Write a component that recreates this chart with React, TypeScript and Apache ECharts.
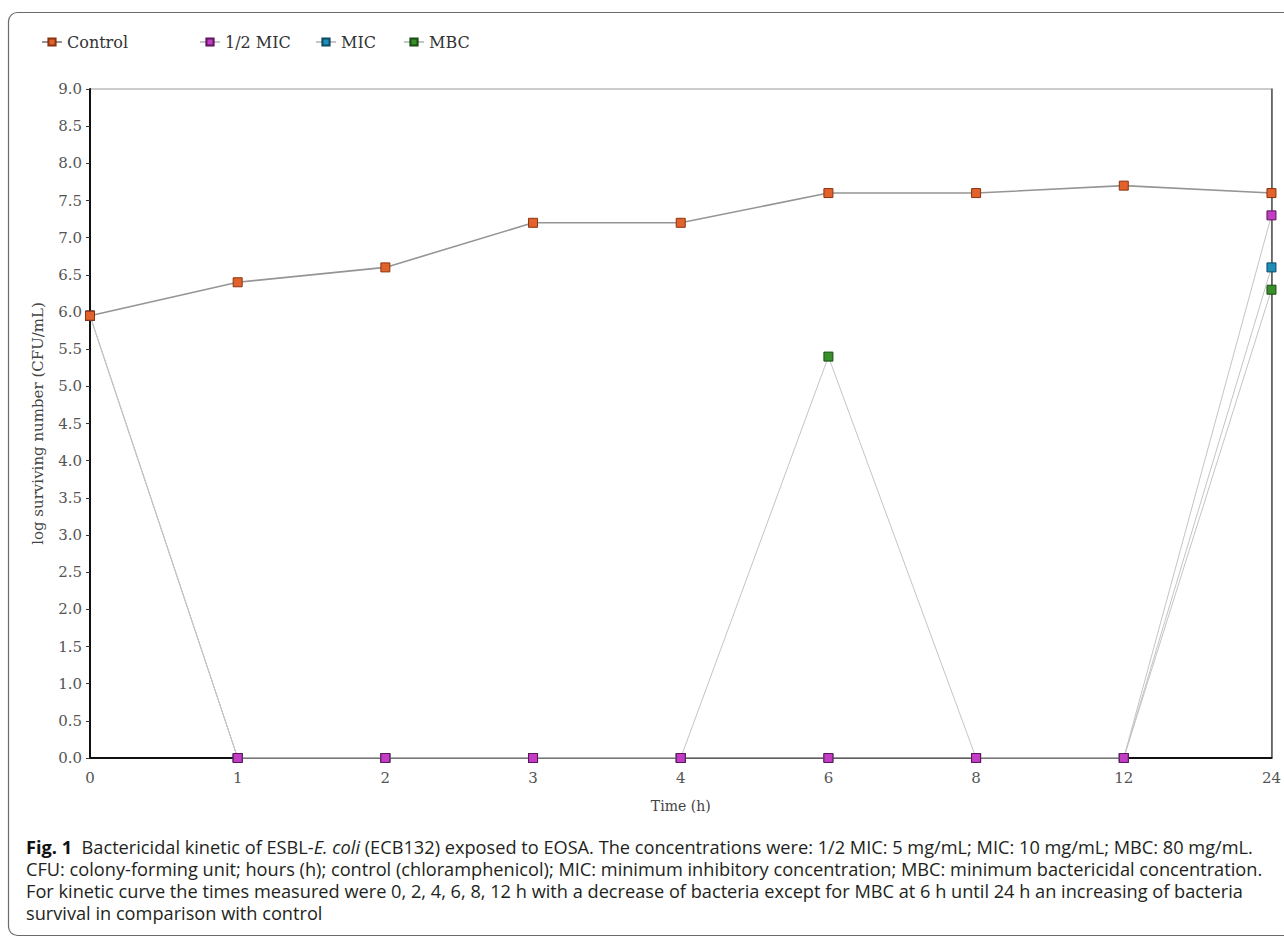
import React, { useEffect, useRef } from "react";
import * as echarts from "echarts";

const categories = ["0", "1", "2", "3", "4", "6", "8", "12", "24"];
const seriesNames = ["Control", "1/2 MIC", "MIC", "MBC"];
const control = [5.95, 6.4, 6.6, 7.2, 7.2, 7.6, 7.6, 7.7, 7.6];
const halfMic = [5.95, 0, 0, 0, 0, 0, 0, 0, 7.3];
const mic = [5.95, 0, 0, 0, 0, 0, 0, 0, 6.6];
const mbc = [5.95, 0, 0, 0, 0, 5.4, 0, 0, 6.3];

const yAxisTitle = "log surviving number (CFU/mL)";
const xAxisTitle = "Time (h)";

const captionLine1Rich =
  "{b|Fig. 1}  Bactericidal kinetic of ESBL-{i|E. coli} (ECB132) exposed to EOSA. The concentrations were: 1/2 MIC: 5 mg/mL; MIC: 10 mg/mL; MBC: 80 mg/mL.";
const captionLine2 =
  "CFU: colony-forming unit; hours (h); control (chloramphenicol); MIC: minimum inhibitory concentration; MBC: minimum bactericidal concentration.";
const captionLine3 =
  "For kinetic curve the times measured were 0, 2, 4, 6, 8, 12 h with a decrease of bacteria except for MBC at 6 h until 24 h an increasing of bacteria";
const captionLine4 = "survival in comparison with control";

const SERIF = '"DejaVu Serif", "Liberation Serif", serif';
const SANS = '"Open Sans", "Noto Sans", sans-serif';

const legendLefts = [36, 194, 310, 398];
const CAP_SIZE = 18.2;

export default function App() {
  const ref = useRef<HTMLDivElement>(null);

  useEffect(() => {
    if (!ref.current) return;
    const chart = echarts.init(ref.current, null, { renderer: "svg" });

    const mk = (
      name: string,
      data: number[],
      color: string,
      border: string,
      lineColor: string,
      lineWidth: number,
      z: number
    ) => ({
      name,
      type: "line",
      data,
      z,
      symbol: "rect",
      symbolSize: 9,
      showSymbol: true,
      lineStyle: { color: lineColor, width: lineWidth },
      itemStyle: { color, borderColor: border, borderWidth: 1 },
      emphasis: { disabled: true },
    });

    const capStyle = (text: string) => ({
      text,
      fontFamily: SANS,
      fontSize: CAP_SIZE,
      lineHeight: CAP_SIZE,
      fill: "#231f20",
      verticalAlign: "middle",
    });

    chart.setOption({
      animation: false,
      backgroundColor: "#ffffff",
      legend: seriesNames.map((n, i) => ({
        left: legendLefts[i],
        top: 29,
        itemWidth: 20,
        itemHeight: 9,
        textStyle: { fontFamily: SERIF, fontSize: 16, color: "#333" },
        data: [n],
      })),
      grid: {
        left: 90,
        right: 11,
        top: 89,
        bottom: 180,
        show: true,
        borderColor: "#999",
        borderWidth: 1,
      },
      xAxis: {
        type: "category",
        data: categories,
        boundaryGap: false,
        name: xAxisTitle,
        nameLocation: "middle",
        nameGap: 41,
        nameTextStyle: { fontFamily: SERIF, fontSize: 14, color: "#444" },
        axisLine: { lineStyle: { color: "#111", width: 2 } },
        axisTick: { show: false },
        axisLabel: { fontFamily: SERIF, fontSize: 15, color: "#555", margin: 12 },
        splitLine: { show: false },
      },
      yAxis: [
        {
          type: "value",
          min: 0,
          max: 9,
          interval: 0.5,
          name: yAxisTitle,
          nameLocation: "middle",
          nameGap: 45,
          nameTextStyle: { fontFamily: SERIF, fontSize: 15, color: "#444" },
          axisLine: { show: true, lineStyle: { color: "#111", width: 2 } },
          axisTick: { show: true, length: 4, lineStyle: { color: "#333" } },
          axisLabel: {
            fontFamily: SERIF,
            fontSize: 15,
            color: "#555",
            margin: 8,
            formatter: (v: number) => v.toFixed(1),
          },
          splitLine: { show: false },
        },
        {
          type: "value",
          min: 0,
          max: 9,
          interval: 0.5,
          position: "right",
          axisLine: { show: true, lineStyle: { color: "#555", width: 1.5 } },
          axisTick: { show: false },
          axisLabel: { show: false },
          splitLine: { show: false },
        },
      ],
      series: [
        mk("Control", control, "#e2622b", "#8a3310", "#959595", 1.6, 5),
        mk("1/2 MIC", halfMic, "#c23cc4", "#5e145e", "#c4c4c4", 1, 4),
        mk("MIC", mic, "#1f8fb8", "#0d4a63", "#c4c4c4", 1, 3),
        mk("MBC", mbc, "#3a8f2a", "#174d10", "#c4c4c4", 1, 2),
      ],
      graphic: [
        {
          type: "rect",
          shape: { x: 8.5, y: 12.5, width: 1290, height: 923, r: 9 },
          style: { fill: "none", stroke: "#6b6b6b", lineWidth: 1.2 },
          silent: true,
          z: -1,
        },
        {
          type: "text",
          x: 26,
          y: 847,
          style: {
            ...capStyle(captionLine1Rich),
            rich: {
              b: { fontFamily: SANS, fontSize: CAP_SIZE, lineHeight: CAP_SIZE, fontWeight: "bold", fill: "#111" },
              i: { fontFamily: SANS, fontSize: CAP_SIZE, lineHeight: CAP_SIZE, fontStyle: "italic", fill: "#231f20" },
            },
          },
        },
        { type: "text", x: 26, y: 869, style: capStyle(captionLine2) },
        { type: "text", x: 26, y: 891, style: capStyle(captionLine3) },
        { type: "text", x: 26, y: 913, style: capStyle(captionLine4) },
      ],
    });

    return () => chart.dispose();
  }, []);

  return (
    <div
      ref={ref}
      style={{ position: "fixed", left: 0, top: 0, width: 1284, height: 938, background: "#fff" }}
    />
  );
}
